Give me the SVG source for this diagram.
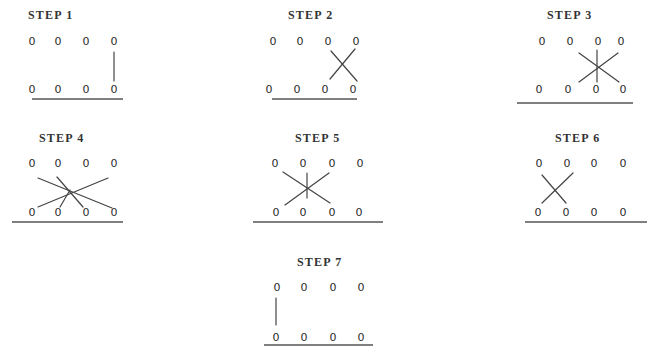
<svg xmlns="http://www.w3.org/2000/svg" width="654" height="347" viewBox="0 0 654 347">
  <style>
    .title { font-family: "Liberation Serif", "DejaVu Serif", serif; font-size: 12px; font-weight: bold; fill: #333; letter-spacing: 1.2px; }
    .dig { font-family: "DejaVu Sans", "Liberation Sans", sans-serif; font-size: 11px; fill: #2a2a2a; text-anchor: middle; }
    .base { stroke: #555; stroke-width: 1.4; fill: none; }
    .link { stroke: #444; stroke-width: 1.2; fill: none; stroke-linecap: round; }
  </style>
  <rect width="654" height="347" fill="#fff"/>

  <!-- STEP 1 -->
  <g id="step1">
    <text class="title" x="28" y="19">STEP 1</text>
    <g class="dig">
      <text x="32" y="45">0</text><text x="58" y="45">0</text><text x="86" y="45">0</text><text x="114" y="45">0</text>
      <text x="32" y="93">0</text><text x="58" y="93">0</text><text x="86" y="93">0</text><text x="114" y="93">0</text>
    </g>
    <line class="base" x1="32" y1="99" x2="123" y2="99"/>
  </g>

  <!-- STEP 2 -->
  <g id="step2">
    <text class="title" x="288" y="19">STEP 2</text>
    <g class="dig">
      <text x="273" y="45">0</text><text x="300" y="45">0</text><text x="328" y="45">0</text><text x="356" y="45">0</text>
      <text x="269" y="93">0</text><text x="297" y="93">0</text><text x="325" y="93">0</text><text x="353" y="93">0</text>
    </g>
    <line class="base" x1="272" y1="99" x2="357" y2="99"/>
  </g>

  <!-- STEP 3 -->
  <g id="step3">
    <text class="title" x="547" y="19">STEP 3</text>
    <g class="dig">
      <text x="542" y="45">0</text><text x="570" y="45">0</text><text x="598" y="45">0</text><text x="621" y="45">0</text>
      <text x="539" y="93">0</text><text x="568" y="93">0</text><text x="596" y="93">0</text><text x="623" y="93">0</text>
    </g>
    <line class="base" x1="517" y1="103" x2="633" y2="103"/>
  </g>

  <!-- STEP 4 -->
  <g id="step4">
    <text class="title" x="39" y="142">STEP 4</text>
    <g class="dig">
      <text x="32" y="167">0</text><text x="58" y="167">0</text><text x="86" y="167">0</text><text x="114" y="167">0</text>
      <text x="32" y="216">0</text><text x="58" y="216">0</text><text x="86" y="216">0</text><text x="114" y="216">0</text>
    </g>
    <line class="base" x1="12" y1="222" x2="123" y2="222"/>
  </g>

  <!-- STEP 5 -->
  <g id="step5">
    <text class="title" x="295" y="142">STEP 5</text>
    <g class="dig">
      <text x="275" y="167">0</text><text x="303" y="167">0</text><text x="332" y="167">0</text><text x="360" y="167">0</text>
      <text x="276" y="216">0</text><text x="303" y="216">0</text><text x="332" y="216">0</text><text x="359" y="216">0</text>
    </g>
    <line class="base" x1="253" y1="222" x2="383" y2="222"/>
  </g>

  <!-- STEP 6 -->
  <g id="step6">
    <text class="title" x="555" y="142">STEP 6</text>
    <g class="dig">
      <text x="539" y="167">0</text><text x="567" y="167">0</text><text x="594" y="167">0</text><text x="623" y="167">0</text>
      <text x="538" y="216">0</text><text x="566" y="216">0</text><text x="594" y="216">0</text><text x="623" y="216">0</text>
    </g>
    <line class="base" x1="525" y1="222" x2="647" y2="222"/>
  </g>

  <!-- STEP 7 -->
  <g id="step7">
    <text class="title" x="297" y="266">STEP 7</text>
    <g class="dig">
      <text x="277" y="291">0</text><text x="304" y="291">0</text><text x="333" y="291">0</text><text x="361" y="291">0</text>
      <text x="276" y="341">0</text><text x="304" y="341">0</text><text x="333" y="341">0</text><text x="361" y="341">0</text>
    </g>
    <line class="base" x1="264" y1="345" x2="373" y2="345"/>
  </g>

  <!-- links between the rows -->
  <g id="connectors" class="link">
    <!-- step 1 -->
    <line x1="114" y1="52" x2="114" y2="81"/>
    <!-- step 2 -->
    <line x1="330" y1="79" x2="355" y2="49"/>
    <line x1="331" y1="51" x2="357" y2="81"/>
    <!-- step 3 -->
    <line x1="597" y1="50" x2="597" y2="82"/>
    <line x1="579" y1="53" x2="619" y2="82"/>
    <line x1="618" y1="53" x2="579" y2="82"/>
    <!-- step 4 -->
    <line x1="38" y1="178" x2="112" y2="208"/>
    <line x1="57" y1="177" x2="83" y2="207"/>
    <line x1="108" y1="178" x2="38" y2="207"/>
    <line x1="70" y1="190" x2="60" y2="207"/>
    <!-- step 5 -->
    <line x1="307" y1="173" x2="307" y2="198"/>
    <line x1="283" y1="172" x2="330" y2="203"/>
    <line x1="329" y1="173" x2="285" y2="205"/>
    <!-- step 6 -->
    <line x1="542" y1="175" x2="566" y2="203"/>
    <line x1="573" y1="173" x2="542" y2="203"/>
    <!-- step 7 -->
    <line x1="276" y1="298" x2="276" y2="325"/>
  </g>
</svg>
